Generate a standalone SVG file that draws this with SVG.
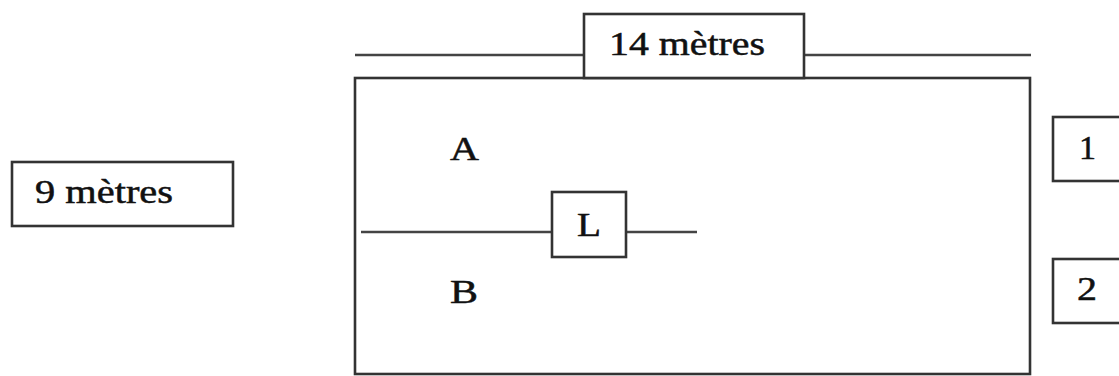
<svg xmlns="http://www.w3.org/2000/svg" width="1119" height="376" viewBox="0 0 1119 376">
<style>
.box{fill:#fff;stroke:#333;stroke-width:2.6}
.ln{fill:none;stroke:#444;stroke-width:2.3}
.t{font-family:"Liberation Serif","Times New Roman",serif;font-size:33px;fill:#111;stroke:#111;stroke-width:0.5}
</style>
<rect width="1119" height="376" fill="#fff"/>
<g id="connectors">
<line class="ln" x1="355" y1="55" x2="1031" y2="55"/>
<line class="ln" x1="361" y1="232" x2="697" y2="232"/>
</g>
<g id="room">
<rect class="box" x="355" y="78" width="675" height="296" style="fill:none"/>
</g>
<g id="dim-14">
<rect class="box" x="584" y="14" width="220" height="64"/>
<text class="t" x="609" y="55" textLength="156" lengthAdjust="spacingAndGlyphs">14 mètres</text>
</g>
<g id="dim-9">
<rect class="box" x="12" y="162" width="221" height="64"/>
<text class="t" x="35" y="203" textLength="138" lengthAdjust="spacingAndGlyphs">9 mètres</text>
</g>
<g id="label-A">
<text class="t" x="450" y="160" textLength="29" lengthAdjust="spacingAndGlyphs">A</text>
</g>
<g id="label-B">
<text class="t" x="450" y="303" textLength="28" lengthAdjust="spacingAndGlyphs">B</text>
</g>
<g id="label-L">
<rect class="box" x="552" y="192" width="74" height="65"/>
<text class="t" x="577" y="236" textLength="24" lengthAdjust="spacingAndGlyphs">L</text>
</g>
<g id="box-1">
<rect class="box" x="1053" y="117" width="80" height="64"/>
<text class="t" x="1079" y="159" textLength="17" lengthAdjust="spacingAndGlyphs">1</text>
</g>
<g id="box-2">
<rect class="box" x="1053" y="259" width="80" height="64"/>
<text class="t" x="1077" y="300" textLength="20" lengthAdjust="spacingAndGlyphs">2</text>
</g>
</svg>
